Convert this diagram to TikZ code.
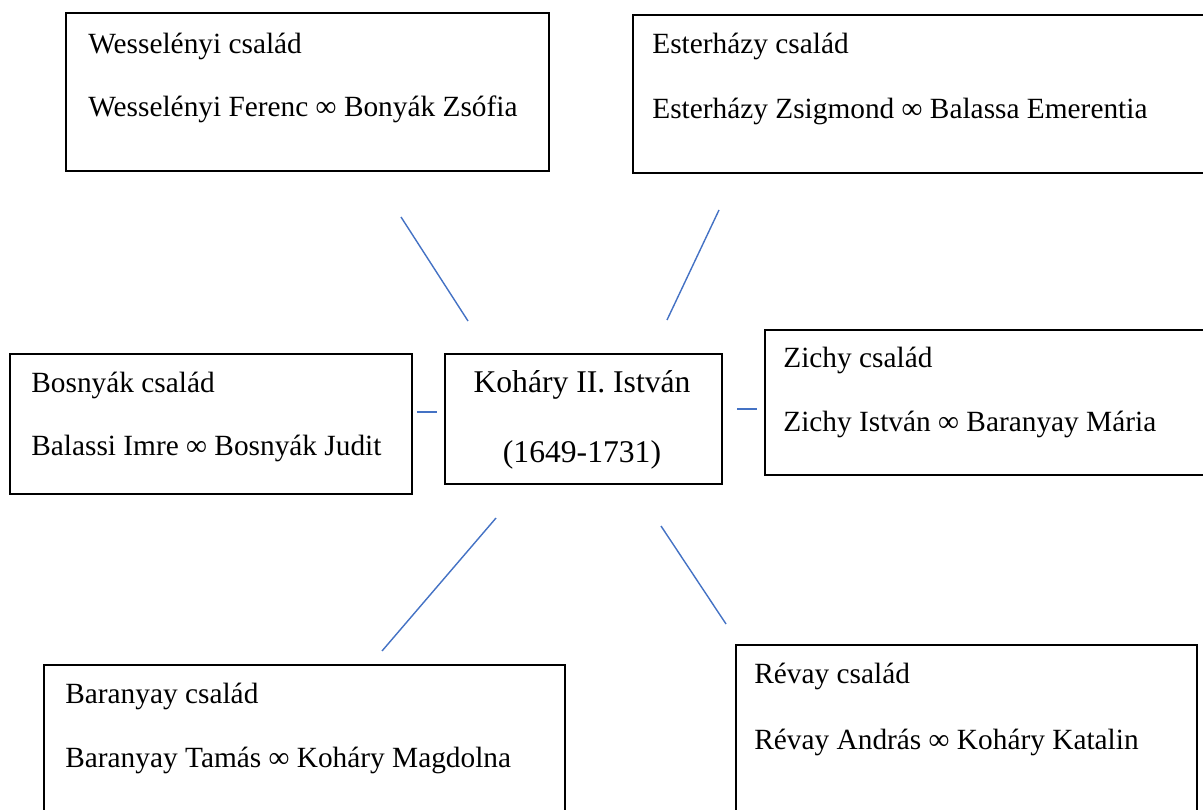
\documentclass[tikz,border=0pt]{standalone}
\usepackage{fontspec}
\setmainfont{Liberation Serif}
\usetikzlibrary{positioning}
\definecolor{linkblue}{HTML}{4472C4}
\tikzset{famsize/.style 2 args={minimum width=#1*0.02cm, minimum height=#2*0.02cm},
         fambox/.style={draw, line width=1.1pt, inner sep=0pt, anchor=north west},
         famtext/.style={inner sep=0pt, anchor=base west, font=\fontsize{16.7}{20}\selectfont},
         roottext/.style={inner sep=0pt, anchor=base, font=\fontsize{18}{22}\selectfont},
         link/.style={draw=linkblue, line width=0.8pt},
         }
\begin{document}
\begin{tikzpicture}[x=0.02cm, y=-0.02cm]
\useasboundingbox (0,0) rectangle (1203,810);
\clip (0,0) rectangle (1203,810);
% boxes
\node[fambox, famsize={483}{158}] (wess) at (65,12) {};
\node[fambox, famsize={598}{158}] (ester) at (632,14) {};
\node[fambox, famsize={402}{140}] (bosn) at (9,353) {};
\node[fambox, famsize={277}{130}] (kohary) at (444,353) {};
\node[fambox, famsize={466}{145}] (zichy) at (764,329) {};
\node[fambox, famsize={521}{166}] (baran) at (43,664) {};
\node[fambox, famsize={461}{186}] (revay) at (735,644) {};
% texts
\node[famtext] (wess1) at (88,54) {Wesselényi család};
\node[famtext] (wess2) at (88,117) {Wesselényi Ferenc ∞ Bonyák Zsófia};
\node[famtext] (ester1) at (652,54) {Esterházy család};
\node[famtext] (ester2) at (652,119) {Esterházy Zsigmond ∞ Balassa Emerentia};
\node[famtext] (bosn1) at (31,393) {Bosnyák család};
\node[famtext] (bosn2) at (31,456) {Balassi Imre ∞ Bosnyák Judit};
\node[roottext] (koh1) at (582,393) {Koháry II. István};
\node[roottext] (koh2) at (582,462) {(1649-1731)};
\node[famtext] (zichy1) at (783,368) {Zichy család};
\node[famtext] (zichy2) at (783,432) {Zichy István ∞ Baranyay Mária};
\node[famtext] (baran1) at (65,703) {Baranyay család};
\node[famtext] (baran2) at (65,767) {Baranyay Tamás ∞ Koháry Magdolna};
\node[famtext] (revay1) at (754,683) {Révay család};
\node[famtext] (revay2) at (754,749) {Révay András ∞ Koháry Katalin};
% connectors
\coordinate (wessA) at (401,217);  \coordinate (wessB) at (468,321);
\coordinate (esterA) at (719,210); \coordinate (esterB) at (667,320);
\coordinate (bosnA) at (417,412);  \coordinate (bosnB) at (437,412);
\coordinate (zichyA) at (737,409); \coordinate (zichyB) at (757,409);
\coordinate (baranA) at (496,518); \coordinate (baranB) at (382,651);
\coordinate (revayA) at (661,526); \coordinate (revayB) at (726,624);
\draw[link] (wessA) -- (wessB);
\draw[link] (esterA) -- (esterB);
\draw[link] (bosnA) -- (bosnB);
\draw[link] (zichyA) -- (zichyB);
\draw[link] (baranA) -- (baranB);
\draw[link] (revayA) -- (revayB);
\end{tikzpicture}
\end{document}
